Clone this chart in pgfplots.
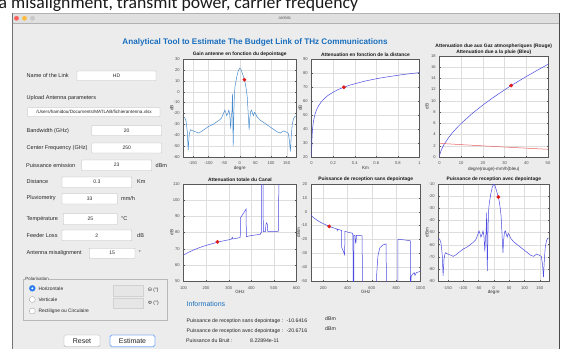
\documentclass[border=0pt]{standalone}
\usepackage{fontspec}
\setmainfont{Liberation Sans}
\newfontfamily\slidefont{Carlito}
\usepackage{pgfplots}
\pgfplotsset{compat=1.18}
\definecolor{winbg}{RGB}{236,236,236}
\definecolor{barbg}{RGB}{224,224,224}
\definecolor{gainblue}{RGB}{70,140,205}
\definecolor{cblue}{RGB}{75,75,225}
\definecolor{rainred}{RGB}{235,95,95}
\definecolor{dotred}{RGB}{225,25,25}
\definecolor{titleblue}{RGB}{25,110,190}
\definecolor{radblue}{RGB}{45,125,240}
\definecolor{macred}{RGB}{252,96,92}
\definecolor{macyel}{RGB}{253,188,64}
\definecolor{macgray}{RGB}{200,200,200}
\definecolor{disfield}{RGB}{230,230,230}
\newcommand{\fs}[1]{\fontsize{#1}{#1}\selectfont}
\newcommand{\lab}[3]{\node[anchor=west,inner sep=0pt,font=\fs{5.55},text=black!85] at (#1,#2) {#3};}
\newcommand{\field}[5]{\draw[black!28,fill=white,line width=0.3pt,rounded corners=0.6pt] (#1,#2) rectangle (#3,#4);
  \node[inner sep=0pt,font=\fs{5},text=black!85] at ({(#1+#3)/2},{(#2+#4)/2}) {#5};}
\pgfplotsset{
  mlab/.style={
    scale only axis,
    axis background/.style={fill=white},
    axis line style={black!65,line width=0.3pt},
    xmajorgrids, ymajorgrids,
    major grid style={black!13,line width=0.25pt},
    tick style={black!65,line width=0.3pt},
    major tick length=1.3pt,
    tick align=inside,
    scaled ticks=false,
    ticklabel style={font=\fs{4.1},text=black!70},
    xticklabel style={yshift=-1.6pt},
    yticklabel style={xshift=-0.2pt},
    /pgf/number format/assume math mode=true,
    /pgf/number format/fixed,
    /pgf/number format/1000 sep={},
    every axis title/.style={font=\bfseries\fs{4.9},text=black!90,at={(0.5,1)},anchor=south,inner sep=0.5pt,yshift=1.3pt,align=center},
    xlabel style={font=\fs{4.6},text=black!80,at={(axis description cs:0.5,-0.115)},anchor=center},
    ylabel style={font=\fs{4.6},text=black!80,at={(axis description cs:-0.105,0.5)},anchor=center},
  },
  dot/.style={only marks,mark=*,mark size=1.7pt,color=dotred},
}
\begin{document}
\begin{tikzpicture}[x=1pt,y=1pt]
\useasboundingbox (0,0) rectangle (564,349);
\clip (0,0) rectangle (564,349);
\fill[white] (0,0) rectangle (564,349);
\begin{scope}[shift={(0,349)},y=-1pt]
% slide text cut at top
\node[anchor=base west,inner sep=0pt,font=\slidefont\fs{17.7},text=black!90] at (-1.5,8.4) {a misalignment, transmit power, carrier frequency};
% window
\fill[winbg] (12.5,23.3) rectangle (559,349);
\fill[barbg] (12.5,13.3) rectangle (559,23.3);
\draw[black!30,line width=0.3pt] (12.5,23.3) -- (559,23.3);
\draw[black!55,line width=0.5pt] (12.5,13.3) -- (12.5,349);
\draw[black!70,line width=0.7pt] (559,13.3) -- (559,349);
\draw[black!30,line width=0.3pt] (12.5,13.3) -- (559,13.3);
\fill[macred] (16.5,18.3) circle (2.4pt);
\fill[macyel] (24.5,18.3) circle (2.4pt);
\fill[macgray] (32.5,18.3) circle (2.4pt);
\node[inner sep=0pt,font=\fs{4.3},text=black!60] at (285,18.4) {atebitc};
% main title
\node[inner sep=0pt,font=\bfseries\fs{8.15},text=titleblue] at (255,42.5) {Analytical Tool to Estimate The Budget Link of THz Communications};
% left panel
\lab{26.5}{75.7}{Name of the Link}
\field{77}{71}{156}{80.5}{HD}
\lab{26.5}{97.7}{Upload Antenna parameters}
\draw[black!28,fill=white,line width=0.3pt,rounded corners=0.6pt] (27.7,107.7) rectangle (160,116.7);
\node[inner sep=0pt,font=\fs{4.6},text=black!85] at (94,112.2) {/Users/hamidou/Documents/MATLAB/fichierantenna.xlsx};
\lab{26.5}{131}{Bandwidth (GHz)}
\field{91.7}{125.5}{161.7}{135.5}{20}
\lab{26.5}{148.3}{Center Frequency (GHz)}
\field{91.7}{143}{161.7}{153}{250}
\lab{26}{165.7}{Puissance emission}
\field{81.7}{160}{151.7}{170.5}{23}
\lab{155.5}{165.7}{dBm}
\lab{26.5}{182}{Distance}
\field{62}{177}{131.7}{187.5}{0.3}
\lab{137}{182}{Km}
\lab{26.5}{198.3}{Pluviometry}
\field{62}{193.5}{117.3}{204}{33}
\lab{121}{198.3}{mm/h}
\lab{26.5}{219}{Température}
\field{63.3}{213.5}{117.3}{224.5}{25}
\lab{121}{219}{°C}
\lab{26.5}{235.3}{Feeder Loss}
\field{62}{230}{131.7}{240.7}{2}
\lab{137}{235.3}{dB}
\lab{26.5}{253.3}{Antenna misalignment}
\field{89.3}{248.3}{135}{258.3}{15}
\lab{138.5}{252.5}{°}
% polarisation
\draw[black!28,line width=0.4pt] (23.3,279.3) rectangle (166.7,320);
\node[anchor=west,fill=winbg,inner sep=0.6pt,font=\fs{4.5},text=black!80] at (24.5,279.3) {Polarisation};
\fill[radblue] (32.3,288.3) circle (3.2pt);
\fill[white] (32.3,288.3) circle (1.1pt);
\draw[black!40,fill=white,line width=0.3pt] (32.3,299.5) circle (3pt);
\draw[black!40,fill=white,line width=0.3pt] (32.3,311) circle (3pt);
\node[anchor=west,inner sep=0pt,font=\fs{4.9},text=black!85] at (38.3,288.3) {Horizontale};
\node[anchor=west,inner sep=0pt,font=\fs{4.9},text=black!85] at (38.3,299.5) {Verticale};
\node[anchor=west,inner sep=0pt,font=\fs{4.9},text=black!85] at (38.3,311) {Rectiligne ou Circulaire};
\draw[black!18,fill=disfield,line width=0.3pt] (113.3,285) rectangle (143.3,295.7);
\draw[black!18,fill=disfield,line width=0.3pt] (113.3,298.3) rectangle (143.3,308.3);
\node[anchor=west,inner sep=0pt,font=\fs{4.9},text=black!85] at (148,290.3) {Θ (°)};
\node[anchor=west,inner sep=0pt,font=\fs{4.9},text=black!85] at (148,303.3) {Φ (°)};
% buttons
\draw[black!35,fill=white,line width=0.3pt,rounded corners=1.5pt] (64,335) rectangle (100,346.7);
\node[inner sep=0pt,font=\fs{7},text=black!85] at (82,341) {Reset};
\draw[radblue!60,fill=white,line width=0.9pt,rounded corners=1.8pt] (110,335) rectangle (155,346.7);
\node[inner sep=0pt,font=\fs{7},text=black!85] at (132.5,341) {Estimate};
% informations
\node[anchor=west,inner sep=0pt,font=\fs{7},text=titleblue] at (186.5,304.3) {Informations};
\node[anchor=west,inner sep=0pt,font=\fs{5.2},text=black!85] at (186.5,320.7) {Puissance de reception sans depointage :};
\node[anchor=west,inner sep=0pt,font=\fs{5.2},text=black!85] at (286.5,320.7) {-10.6416};
\node[anchor=west,inner sep=0pt,font=\fs{5.2},text=black!85] at (325,318.5) {dBm};
\node[anchor=west,inner sep=0pt,font=\fs{5.2},text=black!85] at (186.5,331) {Puissance de reception avec depointage :};
\node[anchor=west,inner sep=0pt,font=\fs{5.2},text=black!85] at (286.5,331) {-20.6716};
\node[anchor=west,inner sep=0pt,font=\fs{5.2},text=black!85] at (325,328.7) {dBm};
\node[anchor=west,inner sep=0pt,font=\fs{5.2},text=black!85] at (186,341) {Puissance du Bruit :};
\node[anchor=west,inner sep=0pt,font=\fs{5.2},text=black!85] at (250,341) {8.22894e-11};
\end{scope}

% ---------- Plot 1 ----------
\begin{axis}[mlab,at={(183.5pt,192pt)},anchor=south west,width=112.5pt,height=98pt,
  xmin=-180,xmax=180,ymin=-60,ymax=30,
  xtick={-150,-100,-50,0,50,100,150},ytick={-60,-50,-40,-30,-20,-10,0,10,20,30},
  title={Gain antenne en fonction du depointage},xlabel={degre},ylabel={dB}]
\addplot[gainblue,line width=0.5pt] coordinates {
(-180,-23) (-176,-24) (-172,-27) (-168,-36) (-165,-54) (-162,-40) (-158,-35) (-150,-36)
(-140,-37) (-132,-38) (-125,-37) (-115,-35) (-100,-32) (-85,-30) (-75,-28) (-65,-26)
(-58,-24) (-52,-20) (-48,-17) (-45,-19) (-42,-22) (-38,-20) (-35,-17) (-32,-21) (-29,-34)
(-27,-22) (-25,-19) (-24,-10) (-23,-2) (-22,-30) (-21,-50) (-19,-20) (-17,-1) (-15,5)
(-10,13) (-5,19) (0,21.5) (4,20.5) (8,17) (12,13.5) (15,11) (18,7) (21,2) (24,-5) (27,-20)
(30,-35) (32,-25) (35,-18) (38,-17) (41,-20) (44,-22) (47,-19) (50,-20) (55,-23) (65,-26)
(75,-28) (90,-31) (105,-34) (120,-37) (130,-38) (140,-36) (148,-37) (155,-38) (159,-45)
(162,-55) (165,-40) (168,-30) (172,-25) (176,-23) (180,-23)};
\addplot[dot] coordinates {(15,11)};
\end{axis}

% ---------- Plot 2 ----------
\begin{axis}[mlab,at={(311.5pt,192pt)},anchor=south west,width=108pt,height=98pt,
  xmin=0,xmax=1,ymin=20,ymax=90,
  xtick={0,0.2,0.4,0.6,0.8,1},ytick={20,30,40,50,60,70,80,90},
  title={Attenuation en fonction de la distance},xlabel={Km},ylabel={dB}]
\addplot[cblue,line width=0.5pt] coordinates {
(0.001,20.3) (0.002,26.3) (0.003,29.8) (0.005,34.3) (0.0075,37.8) (0.01,40.3) (0.015,43.8)
(0.02,46.3) (0.03,49.8) (0.04,52.3) (0.05,54.3) (0.07,57.2) (0.1,60.3) (0.125,62.2)
(0.15,63.8) (0.2,66.3) (0.25,68.3) (0.3,69.8) (0.35,71.2) (0.4,72.3) (0.5,74.3) (0.6,75.9)
(0.7,77.2) (0.8,78.4) (0.9,79.4) (1.0,80.3)};
\addplot[dot] coordinates {(0.3,69.8)};
\end{axis}

% ---------- Plot 3 ----------
\begin{axis}[mlab,at={(439.5pt,192pt)},anchor=south west,width=108.5pt,height=101.3pt,
  xmin=0,xmax=50,ymin=0,ymax=18,
  xtick={0,10,20,30,40,50},ytick={0,2,4,6,8,10,12,14,16,18},
  title style={yshift=-1.0pt,font=\bfseries\fontsize{4.9}{6.4}\selectfont},
  title={Attenuation due aux Gaz atmospheriques (Rouge)\\Attenuation due a la pluie (Bleu)},
  xlabel={degre(rouge)-mm/h(bleu)},ylabel={dB},
  xlabel style={at={(axis description cs:0.5,-0.118)}},
  ylabel style={at={(axis description cs:-0.115,0.5)}}]
\addplot[cblue,line width=0.5pt] coordinates {
(0,0) (0.2,0.51) (0.5,0.90) (1,1.40) (2,2.17) (4,3.35) (6,4.33) (8,5.19) (10,5.97) (15,7.71)
(20,9.24) (25,10.64) (30,11.93) (33,12.7) (35,13.15) (40,14.3) (45,15.4) (50,16.47)};
\addplot[rainred,line width=0.5pt] coordinates {
(0,2.43) (10,2.2) (20,1.98) (30,1.77) (40,1.57) (50,1.37)};
\addplot[dot] coordinates {(33,12.7)};
\end{axis}

% ---------- Plot 4 ----------
\begin{axis}[mlab,at={(183.5pt,68pt)},anchor=south west,width=113pt,height=97pt,
  xmin=100,xmax=600,ymin=50,ymax=110,
  xtick={100,200,300,400,500,600},ytick={50,60,70,80,90,100,110},
  title={Attenuation totale du Canal},xlabel={GHz},ylabel={dB}]
\addplot[cblue,line width=0.5pt] coordinates {
(100,66) (120,67.6) (140,68.9) (160,70.1) (180,71.1) (200,72) (225,73) (250,74) (275,74.8)
(300,75.5) (312,75.9) (316,77) (319,76) (340,76.6) (351,76.9) (352,89) (377,94.5) (378,77.5)
(400,78.1) (420,78.5) (440,78.9) (443,80) (445,79.8) (446,130) (452,130) (453,80.5)
(462,80.6) (465,85) (468,86) (471,85) (473,80.5) (490,80.5) (510,80.6) (521,80.9) (522,130)
(600,130)};
\addplot[dot] coordinates {(250,74.2)};
\end{axis}

% ---------- Plot 5 ----------
\begin{axis}[mlab,at={(311pt,68pt)},anchor=south west,width=109.5pt,height=97pt,
  xmin=100,xmax=1000,ymin=-50,ymax=20,
  xtick={200,400,600,800,1000},ytick={-50,-40,-30,-20,-10,0,10,20},
  title={Puissance de reception sans depointage},xlabel={GHz},ylabel={dBm},
  ylabel style={at={(axis description cs:-0.115,0.5)}}]
\addplot[cblue,line width=0.5pt] coordinates {
(100,-2.6) (120,-4.2) (140,-5.5) (160,-6.7) (180,-7.7) (200,-8.6) (225,-9.6) (250,-10.64)
(275,-11.4) (300,-12.1) (312,-12.5) (316,-13.6) (319,-12.6) (340,-13.2) (351,-13.5)
(352,-25.6) (377,-31.1) (378,-14.1) (400,-14.7) (420,-15.1) (440,-15.5) (443,-16.6)
(445,-16.4) (446,-80) (452,-80) (453,-17.1) (462,-17.2) (465,-21.6) (468,-22.6) (471,-21.6)
(473,-17.1) (490,-17.1) (510,-17.2) (521,-17.5) (522,-80) (636,-80) (640,-45) (650,-32)
(666,-26) (690,-24) (718,-23.2) (720,-80) (814,-80) (815,-19.8) (850,-20.2) (900,-20.7)
(917,-21) (918,-80) (921,-80) (922,-47) (935,-45) (948,-44) (955,-46) (965,-44) (1000,-43)};
\addplot[dot] coordinates {(250,-10.64)};
\end{axis}

% ---------- Plot 6 ----------
\begin{axis}[mlab,at={(438.5pt,68pt)},anchor=south west,width=110.5pt,height=97pt,
  xmin=-180,xmax=180,ymin=-90,ymax=-10,
  xtick={-150,-100,-50,0,50,100,150},ytick={-90,-80,-70,-60,-50,-40,-30,-20,-10},
  title={Puissance de reception avec depointage},xlabel={degre},ylabel={dBm}]
\addplot[cblue,line width=0.5pt] coordinates {
(-180,-54.7) (-176,-55.7) (-172,-58.7) (-168,-67.7) (-165,-85.7) (-162,-71.7) (-158,-66.7)
(-150,-67.7) (-140,-68.7) (-132,-69.7) (-125,-68.7) (-115,-66.7) (-100,-63.7) (-85,-61.7)
(-75,-59.7) (-65,-57.7) (-58,-55.7) (-52,-51.7) (-48,-48.7) (-45,-50.7) (-42,-53.7)
(-38,-51.7) (-35,-48.7) (-32,-52.7) (-29,-65.7) (-27,-53.7) (-25,-50.7) (-24,-41.7)
(-23,-33.7) (-22,-61.7) (-21,-81.7) (-19,-51.7) (-17,-32.7) (-15,-26.7) (-10,-18.7)
(-5,-12.7) (0,-10.2) (4,-11.2) (8,-14.7) (12,-18.2) (15,-20.7) (18,-24.7) (21,-29.7)
(24,-36.7) (27,-51.7) (30,-66.7) (32,-56.7) (35,-49.7) (38,-48.7) (41,-51.7) (44,-53.7)
(47,-50.7) (50,-51.7) (55,-54.7) (65,-57.7) (75,-59.7) (90,-62.7) (105,-65.7) (120,-68.7)
(130,-69.7) (140,-67.7) (148,-68.7) (155,-69.7) (159,-76.7) (162,-86.7) (165,-71.7)
(168,-61.7) (172,-56.7) (176,-54.7) (180,-54.7)};
\addplot[dot] coordinates {(15,-20.67)};
\end{axis}
\end{tikzpicture}
\end{document}
